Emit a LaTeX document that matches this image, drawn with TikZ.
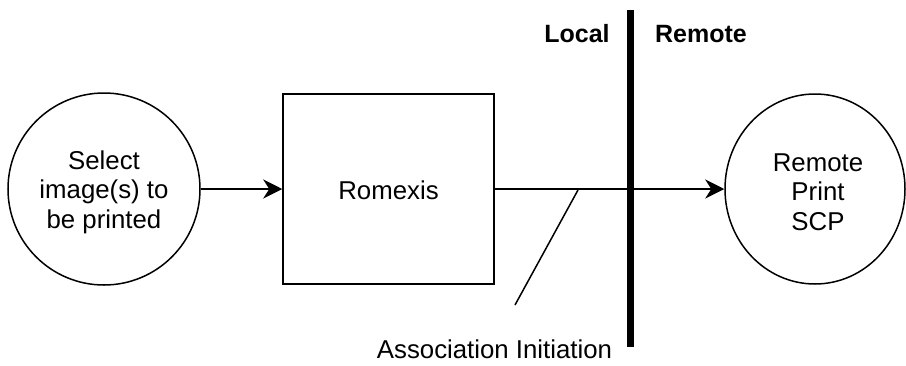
\documentclass[tikz,border=0pt]{standalone}
\usepackage{fontspec}
\setmainfont{Liberation Sans}
\usetikzlibrary{arrows.meta,shapes.geometric}
\begin{document}
\begin{tikzpicture}[x=1pt,y=-1pt,
  lbl/.style={font=\fontsize{25.8}{29.5}\selectfont, align=center, inner sep=0pt},
  blbl/.style={font=\fontsize{25}{29.5}\selectfont\bfseries, inner sep=0pt, anchor=base},
  shp/.style={draw, line width=1.5pt},
  conn/.style={line width=1.8pt, -{Stealth[length=19pt,width=19pt,inset=6pt]}},
  plain/.style={line width=1.5pt}]
\useasboundingbox (0,0) rectangle (906,365);
% shapes
\node[shp, circle, minimum size=192pt, inner sep=0pt] (sel) at (104,189) {};
\node[lbl] (selt) at (104,192) {Select\\image(s) to\\be printed};
\node[shp, rectangle, minimum width=211pt, minimum height=190pt, inner sep=0pt] (rom) at (388.5,189) {};
\node[lbl] (romt) at (388.5,190) {Romexis};
\node[shp, ellipse, minimum width=180pt, minimum height=190pt, inner sep=0pt] (scp) at (815,189) {};
\node[lbl] (scpt) at (818,192) {Remote\\Print\\SCP};
% boundary bar
\coordinate (bartop) at (630.5,10);
\coordinate (barbot) at (630.5,347);
\draw[line width=7.5pt] (bartop) -- (barbot);
\node[blbl] (local) at (577,42) {Local};
\node[blbl] (remote) at (701,42) {Remote};
% connectors
\draw[conn] (sel.east) -- (rom.west);
\draw[conn] (rom.east) -- (scp.west);
% annotation
\coordinate (ann1) at (578,190);
\coordinate (ann2) at (515,305);
\draw[plain] (ann1) -- (ann2);
\node[lbl, anchor=base] (assoc) at (494.5,358) {Association Initiation};
\end{tikzpicture}
\end{document}
